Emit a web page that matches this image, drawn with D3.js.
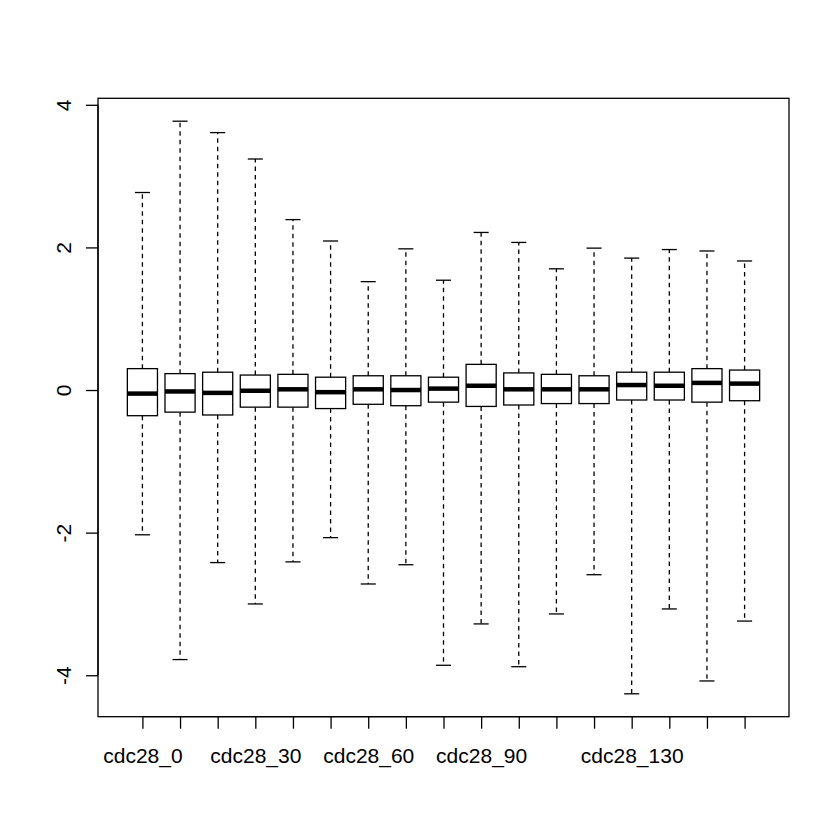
<!DOCTYPE html>
<html>
<head>
<meta charset="utf-8">
<script src="https://cdn.jsdelivr.net/npm/d3@7"></script>
<style>
html, body { margin: 0; padding: 0; background: #fff; }
svg { display: block; }
</style>
</head>
<body>
<svg id="chart" width="840" height="840"></svg>
<script>
const categories = ["cdc28_0","cdc28_10","cdc28_20","cdc28_30","cdc28_40","cdc28_50","cdc28_60","cdc28_70","cdc28_80","cdc28_90","cdc28_100","cdc28_110","cdc28_120","cdc28_130","cdc28_140","cdc28_150","cdc28_160"];
const shownLabels = ["cdc28_0","cdc28_30","cdc28_60","cdc28_90","cdc28_130"];
const whiskerLow  = [-2.03,-3.78,-2.42,-3.00,-2.41,-2.07,-2.72,-2.45,-3.86,-3.28,-3.88,-3.14,-2.59,-4.26,-3.07,-4.08,-3.24];
const q1          = [-0.36,-0.31,-0.35,-0.24,-0.24,-0.26,-0.20,-0.22,-0.17,-0.23,-0.21,-0.19,-0.19,-0.14,-0.14,-0.17,-0.15];
const medians     = [-0.05,-0.02,-0.04,-0.01,0.01,-0.03,0.01,0.00,0.02,0.06,0.01,0.01,0.01,0.07,0.06,0.10,0.09];
const q3          = [0.30,0.23,0.25,0.21,0.22,0.18,0.20,0.20,0.18,0.36,0.24,0.22,0.20,0.25,0.25,0.30,0.28];
const whiskerHigh = [2.77,3.77,3.61,3.24,2.39,2.09,1.52,1.98,1.54,2.21,2.07,1.70,1.99,1.85,1.97,1.95,1.81];
const yTicks = [-4,-2,0,2,4];

const svg = d3.select("#chart");
const mLeft = 98, mRight = 789, mTop = 98.3, mBottom = 716.7;
const n = categories.length;
const font = "'Liberation Sans', Arial, sans-serif";

const x = d3.scaleLinear()
  .domain([0.5 - 0.04 * n, n + 0.5 + 0.04 * n])
  .range([mLeft, mRight]);
const dmin = d3.min(whiskerLow), dmax = d3.max(whiskerHigh);
const pad = (dmax - dmin) * 0.04;
const y = d3.scaleLinear().domain([dmin - pad, dmax + pad]).range([mBottom, mTop]);

const unit = x(2) - x(1);
const boxW = 0.8 * unit, capW = 0.4 * unit;

const data = categories.map((c, i) => ({
  c, pos: i + 1, lo: whiskerLow[i], q1: q1[i], med: medians[i], q3: q3[i], hi: whiskerHigh[i]
}));

const g = svg.append("g");
const boxes = g.selectAll("g.box").data(data).enter().append("g").attr("class", "box");

// whiskers
boxes.append("line")
  .attr("x1", d => x(d.pos)).attr("x2", d => x(d.pos))
  .attr("y1", d => y(d.q3)).attr("y2", d => y(d.hi))
  .attr("stroke", "#000").attr("stroke-width", 1.3).attr("stroke-dasharray", "4.5,4");
boxes.append("line")
  .attr("x1", d => x(d.pos)).attr("x2", d => x(d.pos))
  .attr("y1", d => y(d.q1)).attr("y2", d => y(d.lo))
  .attr("stroke", "#000").attr("stroke-width", 1.3).attr("stroke-dasharray", "4.5,4");
// caps
boxes.append("line")
  .attr("x1", d => x(d.pos) - capW / 2).attr("x2", d => x(d.pos) + capW / 2)
  .attr("y1", d => y(d.hi)).attr("y2", d => y(d.hi))
  .attr("stroke", "#000").attr("stroke-width", 1.3);
boxes.append("line")
  .attr("x1", d => x(d.pos) - capW / 2).attr("x2", d => x(d.pos) + capW / 2)
  .attr("y1", d => y(d.lo)).attr("y2", d => y(d.lo))
  .attr("stroke", "#000").attr("stroke-width", 1.3);
// box
boxes.append("rect")
  .attr("x", d => x(d.pos) - boxW / 2).attr("width", boxW)
  .attr("y", d => y(d.q3)).attr("height", d => y(d.q1) - y(d.q3))
  .attr("fill", "#fff").attr("stroke", "#000").attr("stroke-width", 1.3);
// median
boxes.append("line")
  .attr("x1", d => x(d.pos) - boxW / 2).attr("x2", d => x(d.pos) + boxW / 2)
  .attr("y1", d => y(d.med)).attr("y2", d => y(d.med))
  .attr("stroke", "#000").attr("stroke-width", 4.5);

// frame
svg.append("rect").attr("x", mLeft).attr("y", mTop)
  .attr("width", mRight - mLeft).attr("height", mBottom - mTop)
  .attr("fill", "none").attr("stroke", "#000").attr("stroke-width", 1.3);

// y axis
const yAxis = d3.axisLeft(y).tickValues(yTicks).tickSize(12).tickPadding(0).tickFormat(d => String(d));
const ya = svg.append("g").attr("transform", `translate(${mLeft},0)`).call(yAxis);
ya.select(".domain").remove();
ya.append("line").attr("x1", 0).attr("x2", 0)
  .attr("y1", y(yTicks[0])).attr("y2", y(yTicks[yTicks.length - 1]))
  .attr("stroke", "#000").attr("stroke-width", 1.3);
ya.selectAll(".tick line").attr("stroke", "#000").attr("stroke-width", 1.3);
ya.selectAll(".tick text").remove();
ya.selectAll(".tick").append("text")
  .attr("transform", "translate(-27,0) rotate(-90)")
  .attr("text-anchor", "middle").attr("dy", "0")
  .attr("fill", "#000")
  .style("font-family", font).style("font-size", "21px")
  .text(d => String(d));

// x axis
const xAxis = d3.axisBottom(x).tickValues(data.map(d => d.pos)).tickSize(12).tickPadding(0).tickFormat("");
const xa = svg.append("g").attr("transform", `translate(0,${mBottom})`).call(xAxis);
xa.select(".domain").remove();
xa.append("line").attr("x1", x(1)).attr("x2", x(n)).attr("y1", 0).attr("y2", 0)
  .attr("stroke", "#000").attr("stroke-width", 1.3);
xa.selectAll(".tick line").attr("stroke", "#000").attr("stroke-width", 1.3);
xa.selectAll(".tick").append("text")
  .attr("y", 46).attr("text-anchor", "middle").attr("fill", "#000")
  .style("font-family", font).style("font-size", "21px")
  .text((d, i) => shownLabels.includes(categories[i]) ? categories[i] : "");
</script>
</body>
</html>
